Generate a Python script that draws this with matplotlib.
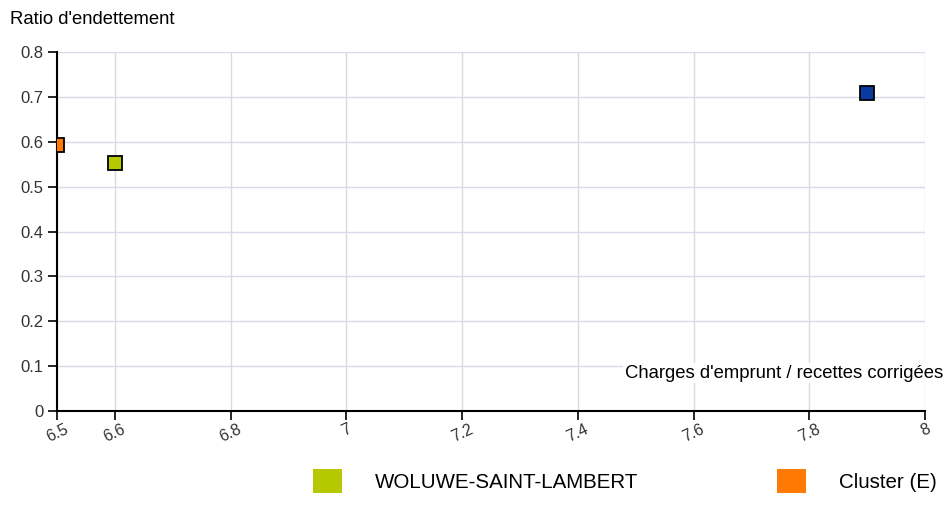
import matplotlib
matplotlib.use("Agg")
import matplotlib.pyplot as plt
from matplotlib.patches import Patch

plt.rcParams['font.family'] = ['Liberation Sans', 'DejaVu Sans']

# Data
names = ["WOLUWE-SAINT-LAMBERT", "Cluster (E)", "Région"]
x_vals = [6.6, 6.5, 7.9]
y_vals = [0.553, 0.593, 0.708]
colors = ["#b5c900", "#ff7a00", "#0a3aa0"]
legend_names = ["WOLUWE-SAINT-LAMBERT", "Cluster (E)"]
x_ticks = [6.5, 6.6, 6.8, 7.0, 7.2, 7.4, 7.6, 7.8, 8.0]
x_tick_labels = ["6.5", "6.6", "6.8", "7", "7.2", "7.4", "7.6", "7.8", "8"]
y_ticks = [0, 0.1, 0.2, 0.3, 0.4, 0.5, 0.6, 0.7, 0.8]
y_tick_labels = ["0", "0.1", "0.2", "0.3", "0.4", "0.5", "0.6", "0.7", "0.8"]

W, H = 945, 524
fig = plt.figure(figsize=(W/100, H/100), dpi=100)
ax = fig.add_axes([57/W, 1-411/H, (925-57)/W, (411-52)/H])

ax.set_xlim(6.5, 8.0)
ax.set_ylim(0, 0.8)
ax.set_xticks(x_ticks)
ax.set_xticklabels(x_tick_labels, rotation=25, fontsize=11.5, color="#333333")
ax.set_yticks(y_ticks)
ax.set_yticklabels(y_tick_labels, fontsize=12, color="#333333")
ax.grid(True, color="#d9d9e8", linewidth=1)
ax.set_axisbelow(True)
for s in ["top", "right"]:
    ax.spines[s].set_visible(False)
for s in ["left", "bottom"]:
    ax.spines[s].set_color("black")
    ax.spines[s].set_linewidth(1.5)
ax.tick_params(axis="both", length=6.5, width=1.2, color="black", pad=3)
ax.tick_params(axis="x", pad=1)

for x, y, c in zip(x_vals, y_vals, colors):
    ax.plot([x], [y], marker="s", markersize=9.5, markerfacecolor=c,
            markeredgecolor="black", markeredgewidth=1.3, linestyle="none",
            clip_on=True, zorder=3)

fig.text(10/W, 1-20/H, "Ratio d'endettement", fontsize=13.3, ha="left", va="center")
fig.text(943/W, 1-373/H, "Charges d'emprunt / recettes corrigées", fontsize=13.3,
         ha="right", va="center",
         bbox=dict(facecolor="white", edgecolor="none", pad=1))

handles = [Patch(facecolor=colors[0], edgecolor="none"),
           Patch(facecolor=colors[1], edgecolor="none")]
fig.legend(handles, legend_names, loc="center left",
           bbox_to_anchor=(313/W, 1-481/H), ncol=2, frameon=False,
           fontsize=14.75, handlelength=1.41, handleheight=1.37,
           handletextpad=1.6, columnspacing=6.8, borderaxespad=0, borderpad=0)

fig.savefig("out.png", dpi=100)
